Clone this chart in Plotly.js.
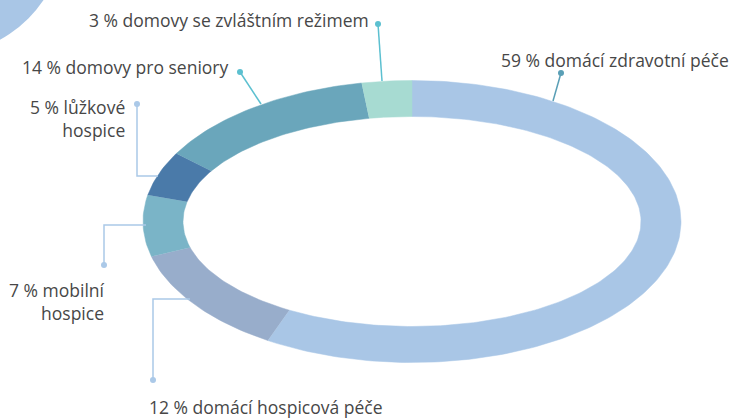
<!DOCTYPE html>
<html>
<head>
<meta charset="utf-8">
<script src="https://cdn.plot.ly/plotly-3.0.1.min.js"></script>
<style>html,body{margin:0;padding:0;background:#fff;}#chart{width:734px;height:418px;}</style>
</head>
<body>
<div id="chart"></div>
<script>
// ---- data ----
const categories = ["domácí zdravotní péče", "domácí hospicová péče", "mobilní hospice", "lůžkové hospice", "domovy pro seniory", "domovy se zvláštním režimem"];
const shares = [59, 12, 7, 5, 14, 3];
const labelBreaks = [false, false, true, true, false, false];

// ---- styles ----
const colors = ["#a9c6e6", "#98adcb", "#7ab4c7", "#4a7aa9", "#6aa6bb", "#a7dbd2"];
const lineColors = ["#5a9fb6", "#abc9e8", "#abc9e8", "#abc9e8", "#5cc0d0", "#5cc0d0"];
const cx = 412, cy = 221.5, outerA = 269, outerB = 141, innerA = 229, innerB = 105;

// label placement (pixel-like layout coordinates)
const labelPos = [
  {x: 499, y: 60, xanchor: "left"},
  {x: 147, y: 407, xanchor: "left"},
  {x: 107, y: 301, xanchor: "right"},
  {x: 127, y: 118.5, xanchor: "right"},
  {x: 231, y: 67, xanchor: "right"},
  {x: 371, y: 20, xanchor: "right"}
];
const leaderPaths = [
  [[561, 73], [553, 101]],
  [[153, 380], [153, 299], [190, 299]],
  [[104, 265], [104, 225], [146, 225]],
  [[137, 104], [137, 176], [158, 176]],
  [[240, 72], [261, 104]],
  [[378, 24], [382, 81]]
];

const total = shares.reduce((a, b) => a + b, 0);
const traces = [];
let cum = 0;
shares.forEach((s, i) => {
  const start = cum / total * 2 * Math.PI;
  cum += s;
  const end = cum / total * 2 * Math.PI;
  const n = Math.max(8, Math.ceil(s * 3));
  const xs = [], ys = [];
  for (let k = 0; k <= n; k++) {
    const t = start + (end - start) * k / n;
    xs.push(cx + outerA * Math.sin(t));
    ys.push(cy - outerB * Math.cos(t));
  }
  for (let k = n; k >= 0; k--) {
    const t = start + (end - start) * k / n;
    xs.push(cx + innerA * Math.sin(t));
    ys.push(cy - innerB * Math.cos(t));
  }
  traces.push({
    type: "scatter", mode: "lines", x: xs, y: ys, fill: "toself",
    fillcolor: colors[i], line: {width: 0.5, color: colors[i]},
    hoverinfo: "skip", showlegend: false
  });
});

// leader lines and dots
leaderPaths.forEach((p, i) => {
  traces.push({
    type: "scatter", mode: "lines", x: p.map(q => q[0]), y: p.map(q => q[1]),
    line: {width: 1.5, color: lineColors[i]}, hoverinfo: "skip", showlegend: false
  });
  traces.push({
    type: "scatter", mode: "markers", x: [p[0][0]], y: [p[0][1]],
    marker: {size: 6, color: lineColors[i]}, hoverinfo: "skip", showlegend: false
  });
});

const annotations = shares.map((s, i) => {
  const name = labelBreaks[i] ? categories[i].replace(" ", "<br>") : categories[i];
  return {
    x: labelPos[i].x, y: labelPos[i].y, xref: "x", yref: "y",
    xanchor: labelPos[i].xanchor, yanchor: "middle",
    align: labelPos[i].xanchor === "right" ? "right" : "left",
    text: s + " % " + name, showarrow: false,
    font: {family: "Open Sans, Noto Sans, sans-serif", size: 17.5, color: "#474747"}
  };
});

const layout = {
  width: 734, height: 418,
  margin: {l: 0, r: 0, t: 0, b: 0},
  paper_bgcolor: "#ffffff", plot_bgcolor: "#ffffff",
  xaxis: {range: [0, 734], visible: false, fixedrange: true},
  yaxis: {range: [418, 0], visible: false, fixedrange: true},
  shapes: [{
    type: "circle", xref: "x", yref: "y", layer: "below",
    x0: -185, x1: 65, y0: -195, y1: 55,
    fillcolor: "#a9c6e6", line: {width: 0}
  }],
  annotations: annotations,
  showlegend: false
};

Plotly.newPlot("chart", traces, layout, {displayModeBar: false, staticPlot: true});
</script>
</body>
</html>
